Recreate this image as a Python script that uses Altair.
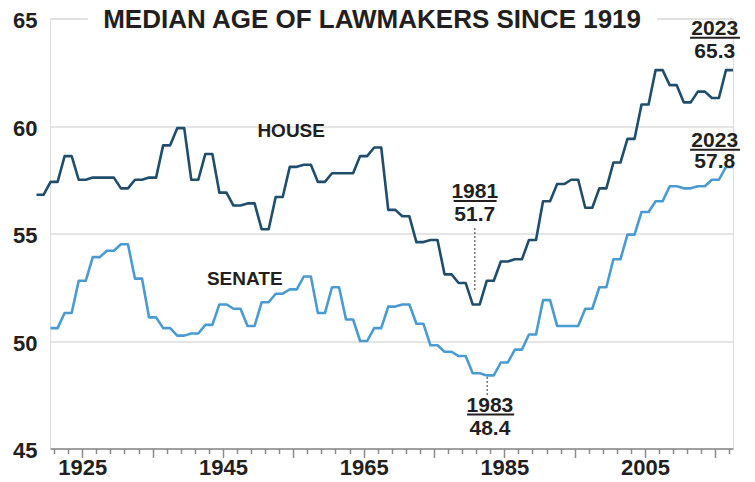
import altair as alt
import pandas as pd

# Congress start years (one value per Congress)
years = [1919, 1921, 1923, 1925, 1927, 1929, 1931, 1933, 1935, 1937,
         1939, 1941, 1943, 1945, 1947, 1949, 1951, 1953, 1955, 1957,
         1959, 1961, 1963, 1965, 1967, 1969, 1971, 1973, 1975, 1977,
         1979, 1981, 1983, 1985, 1987, 1989, 1991, 1993, 1995, 1997,
         1999, 2001, 2003, 2005, 2007, 2009, 2011, 2013, 2015, 2017]

house = [56.8, 57.4, 58.6, 57.5, 57.6, 57.6, 57.1, 57.5, 57.6, 59.1,
         59.9, 57.5, 58.7, 56.9, 56.3, 56.4, 55.2, 56.7, 58.1, 58.2,
         57.4, 57.8, 57.8, 58.6, 59.0, 56.1, 55.8, 54.6, 54.7, 53.1,
         52.7, 51.7, 52.8, 53.7, 53.8, 54.7, 56.5, 57.3, 57.5, 56.2,
         57.1, 58.3, 59.4, 61.0, 62.6, 61.9, 61.1, 61.6, 61.3, 62.6]

senate_years = years[1:]
senate = [50.6, 51.3, 52.8, 53.9, 54.2, 54.5, 52.9, 51.1, 50.6,
          50.25, 50.35, 50.75, 51.7, 51.5, 50.7, 51.8, 52.2, 52.4, 53.0,
          51.3, 52.5, 51.0, 50.0, 50.6, 51.6, 51.7, 50.8, 49.8, 49.5,
          49.3, 48.5, 48.4, 49.0, 49.6, 50.3, 51.9, 50.7, 50.7, 51.5,
          52.5, 53.8, 54.95, 56.0, 56.5, 57.2, 57.1, 57.2, 57.5, 58.1]

series_names = ["House", "Senate"]
series_colors = ["#1f4e6d", "#4a9bd2"]

y_ticks = [45, 50, 55, 60, 65]
minor_ticks = [1921, 1923, 1927, 1929, 1931, 1933, 1937, 1939,
               1941, 1943, 1947, 1949, 1951, 1953, 1957, 1959,
               1961, 1963, 1967, 1969, 1971, 1973, 1977, 1979,
               1981, 1983, 1987, 1989, 1991, 1993, 1997, 1999,
               2001, 2003, 2007, 2009, 2011, 2013, 2017]
major_ticks = [1925, 1935, 1945, 1955, 1965, 1975, 1985, 1995, 2005, 2015]
label_years = [1925, 1945, 1965, 1985, 2005]

title_text = "MEDIAN AGE OF LAWMAKERS SINCE 1919"

# annotation texts (label, x-year, y-value, size)
ann_text = ["HOUSE", "SENATE", "2023", "65.3", "2023", "57.8",
            "1981", "51.7", "1983", "48.4"]
ann_x = [1954.7, 1948.1, 2014.9, 2014.9, 2014.9, 2014.9,
         1980.8, 1980.8, 1982.95, 1982.95]
ann_y = [59.49, 52.6, 64.23, 63.16, 59.02, 58.05,
         56.65, 55.58, 46.70, 45.63]
ann_size = [19, 19, 21, 21, 21, 21, 21, 21, 21, 21]

# underlines under years
ul_x = [2011.4, 2011.4, 1977.8, 1979.7]
ul_x2 = [2018.5, 2018.5, 1983.9, 1986.4]
ul_y = [64.10, 58.90, 56.51, 46.58]

# dotted leader lines
dl_x = [1980.8, 1982.57]
dl_y = [55.26, 48.33]
dl_y2 = [52.37, 47.49]

FONT = "Liberation Sans"
TXT = "#231f20"

rows = []
for yr, v in zip(years, house):
    rows.append({"year": yr - 0.5, "value": v, "series": "House"})
    rows.append({"year": yr + 0.5, "value": v, "series": "House"})
for yr, v in zip(senate_years, senate):
    rows.append({"year": yr - 0.5, "value": v, "series": "Senate"})
    rows.append({"year": yr + 0.5, "value": v, "series": "Senate"})
line_df = pd.DataFrame(rows)

xs = alt.Scale(domain=[1920.42, 2017.5], nice=False, zero=False)
ys = alt.Scale(domain=[45, 65], nice=False, zero=False)

label_test = " || ".join(f"datum.value == {v}" for v in label_years)

x_axis_minor = alt.Axis(
    values=minor_ticks, labels=False, tickSize=5,
    tickColor="#8a8a8a", tickWidth=1.5, domainColor="#8a8a8a", domainWidth=1.5,
    grid=False, title=None, orient="bottom",
)
x_axis_major = alt.Axis(
    values=major_ticks, format="d", tickSize=9, domain=False,
    tickColor="#8a8a8a", tickWidth=1.5,
    labelExpr=f"({label_test}) ? datum.label : ''",
    labelFont=FONT, labelFontSize=22, labelFontWeight="bold", labelColor=TXT,
    labelPadding=0, labelOverlap=False, labelFlush=False, labelBound=False,
    grid=False, title=None, orient="bottom",
)
y_axis = alt.Axis(
    values=y_ticks, grid=True, gridColor="#dcdcdc", gridWidth=1.5,
    domain=False, ticks=False, labelPadding=13,
    labelFont=FONT, labelFontSize=22, labelFontWeight="bold", labelColor=TXT,
    labelBaseline="middle", labelOffset=2, title=None,
)


def X(**kw):
    return alt.X("year:Q", scale=xs, title=None, **kw)


def Y(**kw):
    return alt.Y("value:Q", scale=ys, title=None, **kw)


lines = alt.Chart(line_df).mark_line(strokeWidth=2.6, strokeJoin="round").encode(
    x=X(axis=x_axis_minor),
    y=Y(axis=y_axis),
    color=alt.Color("series:N", scale=alt.Scale(domain=series_names, range=series_colors), legend=None),
)

major = alt.Chart(line_df).mark_line(opacity=0).encode(
    x=X(axis=x_axis_major),
    y=Y(),
    detail="series:N",
)

title_bg = alt.Chart(pd.DataFrame({"year": [1925.8], "x2": [2006.7], "value": [64.65], "y2": [65.25]})).mark_rect(
    color="white").encode(
    x=X(axis=None), x2="x2:Q",
    y=Y(), y2="y2:Q",
)

title = alt.Chart(pd.DataFrame({"t": [title_text], "year": [1966.2], "value": [64.56]})).mark_text(
    font=FONT, fontSize=26, fontWeight="bold", color=TXT, align="center", baseline="alphabetic"
).encode(
    x=X(axis=None), y=Y(), text="t:N",
)

ann_df = pd.DataFrame({"t": ann_text, "year": ann_x, "value": ann_y, "s": ann_size})
ann = alt.Chart(ann_df).mark_text(
    font=FONT, fontWeight="bold", color=TXT, align="center", baseline="alphabetic"
).encode(
    x=X(axis=None), y=Y(), text="t:N",
    size=alt.Size("s:Q", scale=None, legend=None),
)

ul = alt.Chart(pd.DataFrame({"year": ul_x, "x2": ul_x2, "value": ul_y})).mark_rule(
    color=TXT, strokeWidth=2).encode(
    x=X(axis=None), x2="x2:Q", y=Y(),
)

dl = alt.Chart(pd.DataFrame({"year": dl_x, "value": dl_y, "y2": dl_y2})).mark_rule(
    color="#777777", strokeWidth=1.5, strokeDash=[2, 2]).encode(
    x=X(axis=None), y=Y(), y2="y2:Q",
)

others = alt.layer(title_bg, title, dl, ul, ann)

chart = alt.layer(lines, major, others).resolve_axis(x="independent").properties(
    width=683, height=430,
    padding={"left": 42, "top": 10.5, "right": 14, "bottom": 34},
    autosize=alt.AutoSizeParams(type="none"),
).configure_view(stroke=None).configure(background="white")

chart.save("out.html", embed_options={"renderer": "svg", "actions": False})
